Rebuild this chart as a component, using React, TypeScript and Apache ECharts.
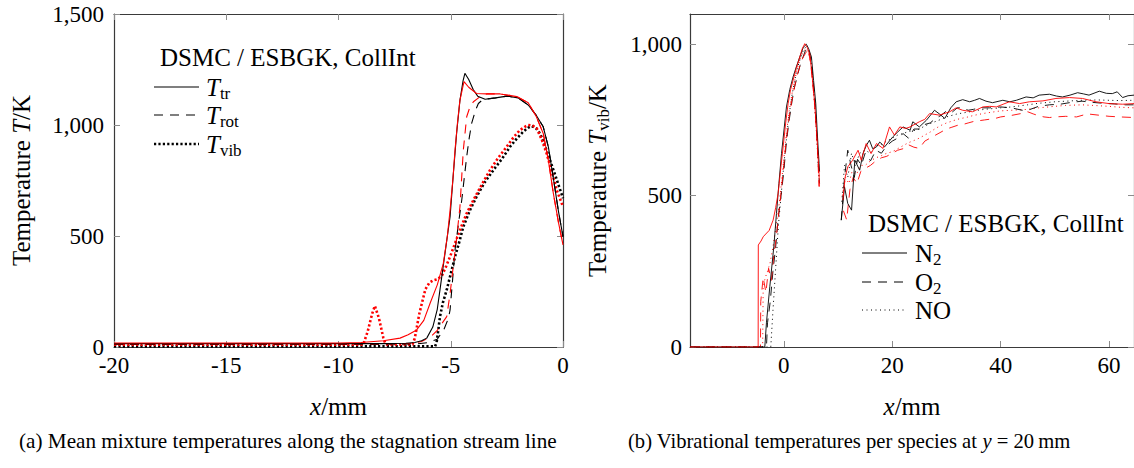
import React, { useEffect, useRef } from "react";
import * as echarts from "echarts";

const FONT = "Liberation Serif";
const BLACK = "#000000";
const RED = "#ff0000";

// ---------- (a) Mean mixture temperatures, x in mm, T in K ----------
const aXTicks = [-20, -15, -10, -5, 0];
const aYTicks = [0, 500, 1000, 1500];

const trDsmc = [[-20,15],[-10,15],[-8,15],[-7,17],[-6.6,20],[-6.3,28],[-6.07,40],[-5.8,90],[-5.6,170],[-5.48,257],[-5.3,390],[-5.15,500],[-5.03,587],[-4.9,760],[-4.74,962],[-4.59,1112],[-4.45,1200],[-4.37,1233],[-4.2,1205],[-4.0,1160],[-3.8,1130],[-3.47,1116],[-3.0,1122],[-2.5,1130],[-2.0,1122],[-1.55,1090],[-1.2,1045],[-0.88,992],[-0.65,900],[-0.44,767],[-0.2,610],[0,497]];
const trBgk = [[-20,18],[-10,18],[-9,20],[-8,28],[-7.26,40],[-6.9,55],[-6.52,77],[-6.2,120],[-5.92,197],[-5.6,280],[-5.33,377],[-5.15,500],[-5.03,617],[-4.9,760],[-4.81,887],[-4.7,1010],[-4.59,1112],[-4.41,1195],[-4.2,1170],[-3.85,1142],[-3.4,1140],[-2.8,1140],[-2.06,1128],[-1.55,1100],[-1.2,1040],[-0.88,962],[-0.65,840],[-0.43,692],[-0.2,560],[0,460]];
const rotDsmc = [[-20,12],[-8,12],[-6.5,14],[-6.0,20],[-5.6,35],[-5.3,80],[-5.1,130],[-5.03,167],[-4.92,300],[-4.81,437],[-4.65,560],[-4.51,662],[-4.4,760],[-4.29,857],[-4.18,940],[-4.07,1007],[-3.9,1065],[-3.77,1097],[-3.6,1112],[-3.47,1116],[-3.0,1122],[-2.5,1130],[-2.0,1122],[-1.55,1090],[-1.2,1045],[-0.88,992],[-0.65,900],[-0.44,767],[-0.2,610],[0,497]];
const rotBgk = [[-20,14],[-8,14],[-6.8,16],[-6.3,25],[-5.9,45],[-5.6,75],[-5.4,105],[-5.18,137],[-5.03,240],[-4.89,362],[-4.75,480],[-4.59,632],[-4.44,887],[-4.29,1037],[-4.15,1080],[-3.99,1105],[-3.70,1127],[-3.4,1140],[-2.8,1140],[-2.06,1128],[-1.55,1100],[-1.2,1040],[-0.88,962],[-0.65,840],[-0.43,692],[-0.2,560],[0,460]];
const vibDsmc = [[-20,3],[-5.7,3],[-5.63,20],[-5.55,80],[-5.48,137],[-5.35,200],[-5.18,257],[-5.0,330],[-4.81,407],[-4.6,480],[-4.44,542],[-4.15,615],[-3.85,677],[-3.5,740],[-3.10,797],[-2.7,850],[-2.36,902],[-2.05,940],[-1.77,970],[-1.55,988],[-1.39,995],[-1.2,985],[-1.02,962],[-0.8,905],[-0.58,842],[-0.3,760],[0,670]];
const vibBgk = [[-20,10],[-8.9,10],[-8.7,70],[-8.5,150],[-8.38,185],[-8.2,130],[-8.0,40],[-7.9,12],[-6.7,12],[-6.6,40],[-6.4,150],[-6.13,260],[-5.95,290],[-5.78,300],[-5.6,305],[-5.40,320],[-5.2,365],[-5.03,407],[-4.8,470],[-4.59,527],[-4.3,600],[-3.99,662],[-3.6,735],[-3.25,797],[-2.9,850],[-2.51,902],[-2.2,945],[-1.92,977],[-1.7,992],[-1.55,1000],[-1.35,997],[-1.17,985],[-0.95,935],[-0.73,872],[-0.5,790],[-0.28,707],[0,632]];

// ---------- (b) Vibrational temperatures per species at y = 20 mm ----------
const bXTicks = [0, 20, 40, 60];
const bYTicks = [0, 500, 1000];

const n2Dsmc = [[-17.3,0],[-3.5,0],[-3.2,80],[-2.58,199],[-1.84,331],[-1.35,441],[-0.9,540],[-0.42,639],[0.49,793],[1.1,850],[1.71,892],[2.3,925],[2.95,958],[3.6,990],[4.17,1000],[4.6,985],[5.1,958],[5.5,880],[5.9,804],[6.2,700],[6.51,606],[6.6,580],[8.5,null],[10.6,419],[11.2,529],[11.8,474],[12.5,452],[13.1,617],[14.0,584],[14.6,639],[15.2,665],[15.8,683],[16.4,655],[17.1,661],[17.7,677],[18.6,661],[20.1,694],[21,710],[22,727],[23.3,716],[23.8,744],[25.0,727],[26.3,749],[27.8,782],[28.7,770],[29.7,755],[30.8,790],[31.8,810],[33.0,817],[34.3,810],[35.2,815],[36.1,821],[37.3,812],[38.5,807],[40.4,815],[41.7,810],[42.9,815],[44.7,826],[46,823],[47.1,832],[49,835],[50.3,829],[51.4,826],[52.8,832],[54.2,840],[55.3,836],[56.3,832],[58.2,845],[59.5,838],[60.6,837],[61.5,843],[62.5,824],[63.5,830],[64.6,832]];
const n2Bgk = [[-17.3,0],[-4.73,0],[-4.7,337],[-4.2,350],[-3.8,364],[-3.5,370],[-2.7,385],[-1.97,419],[-1.5,460],[-1.05,507],[-0.5,600],[-0.12,661],[0.35,740],[0.8,804],[1.25,850],[1.71,881],[2.3,920],[2.95,958],[3.4,985],[3.87,1002],[4.3,990],[4.79,969],[5.2,900],[5.71,804],[6.1,700],[6.51,573],[6.55,530],[8.5,null],[10.9,485],[11.3,560],[11.8,595],[12.7,617],[13.7,650],[14.3,617],[15.2,672],[16.1,639],[17.1,672],[18.3,656],[19.5,727],[20.4,700],[21.4,727],[22.5,722],[23.3,727],[25.0,744],[26.0,752],[26.9,771],[28.7,766],[30.6,777],[31.8,790],[33.0,782],[34.8,777],[36.7,793],[38,795],[39.2,793],[41.6,810],[43.5,804],[45.3,810],[47.8,813],[50.2,821],[52.7,824],[55.1,821],[57.6,810],[60.0,804],[62.5,802],[64.6,804]];
const o2Dsmc = [[-17.3,0],[-3.2,0],[-3.0,80],[-2.5,150],[-2.0,250],[-1.5,330],[-1.0,430],[-0.5,500],[0,580],[0.5,680],[1.0,750],[1.5,810],[2.0,860],[2.5,895],[3.0,930],[3.5,955],[4.0,980],[4.5,990],[5.0,950],[5.4,880],[5.7,820],[6.1,700],[6.5,560],[6.6,540],[8.5,null],[10.6,419],[11.2,560],[11.8,650],[12.4,600],[13.0,560],[13.6,620],[14.3,600],[15.0,640],[16,615],[17,650],[18,640],[19,665],[20,680],[21,690],[22,705],[23,690],[24,720],[25,720],[26,735],[27,740],[28,755],[29,765],[30,780],[31,775],[32,790],[33,790],[34,782],[35,785],[36,790],[38,790],[40,793],[42,790],[44,782],[45,782],[47,795],[49,800],[51,802],[53,808],[55,812],[57,808],[59,805],[61,803],[63,800],[64.6,800]];
const o2Bgk = [[-17.3,0],[-4.3,0],[-4.25,150],[-3.8,230],[-3.3,180],[-2.8,260],[-2.3,220],[-1.8,310],[-1.4,360],[-1.0,430],[-0.5,510],[0,600],[0.5,690],[1.0,760],[1.5,815],[2.0,860],[2.5,900],[3.0,930],[3.5,955],[4.0,970],[4.5,985],[5.0,930],[5.4,860],[5.8,780],[6.2,660],[6.5,530],[8.5,null],[11.0,450],[11.6,420],[12.2,520],[12.8,560],[13.5,540],[14.2,580],[15,590],[16,600],[17,615],[18,625],[19,630],[20,640],[21,650],[22,655],[23,668],[24,660],[25,656],[26,680],[27,690],[28,700],[29,710],[30,720],[31,726],[32,732],[33,735],[34,740],[35,745],[37,750],[39,755],[40,760],[42,765],[44,772],[45,777],[46,770],[47,764],[48,760],[49,758],[50,760],[52,762],[54,760],[56,770],[58,766],[60,762],[62,760],[64.6,758]];
const noDsmc = [[-17.3,0],[-2.4,0],[-2.2,60],[-2.0,120],[-1.5,260],[-1.0,400],[-0.5,500],[0,600],[0.5,690],[1.0,770],[1.5,830],[2.0,880],[2.5,920],[3.0,950],[3.5,975],[4.0,990],[4.5,980],[5.0,950],[5.5,850],[6.0,720],[6.5,560],[8.5,null],[10.7,480],[11.2,600],[11.8,560],[12.5,640],[13.2,600],[14,640],[15,650],[16,640],[17,665],[18,670],[19,680],[20,690],[21,700],[22,705],[23,712],[24,715],[25,720],[26,730],[27,738],[28,745],[29,752],[30,760],[32,770],[34,776],[35,780],[37,785],[40,790],[42,793],[45,800],[47,805],[50,810],[52,812],[55,815],[58,816],[60,815],[62,814],[64.6,815]];
const noBgk = [[-17.3,0],[-3.9,0],[-3.8,200],[-3.4,230],[-3.0,250],[-2.5,280],[-2.0,330],[-1.5,390],[-1.0,450],[-0.5,530],[0,620],[0.5,710],[1.0,780],[1.5,835],[2.0,880],[2.5,920],[3.0,950],[3.5,972],[4.0,985],[4.5,975],[5.0,940],[5.5,840],[6.0,720],[6.5,560],[8.5,null],[10.8,500],[11.4,560],[12,540],[12.6,580],[13.4,570],[14.2,600],[15,600],[16,615],[17,625],[18,632],[19,640],[20,645],[21,655],[22,665],[23,675],[24,682],[25,690],[26,700],[27,710],[28,722],[29,732],[30,740],[32,752],[34,760],[35,765],[37,772],[40,780],[42,782],[45,785],[47,790],[50,795],[52,798],[55,800],[57,798],[60,795],[62,792],[64.6,790]];

const AXIS_LINE = "#3a3a3a";
const TICK = "#8c8c8c";
const TICK_FS = 23;
const TITLE_FS = 25;

const fmt = (v: number) => v.toLocaleString("en-US");

const richBase = {
  n: { fontFamily: FONT, fontSize: TITLE_FS, color: BLACK, lineHeight: 30 },
  i: { fontFamily: FONT, fontSize: TITLE_FS, color: BLACK, fontStyle: "italic", lineHeight: 30 },
  s: { fontFamily: FONT, fontSize: 17, color: BLACK, lineHeight: 12, verticalAlign: "bottom" },
  r: { fontFamily: FONT, fontSize: TITLE_FS, color: RED, lineHeight: 30 },
};

function frameAxis(gridIndex: number, position: string, min: number, max: number, ticks: number[]) {
  return {
    type: "value",
    gridIndex,
    position,
    min,
    max,
    axisLine: { show: true, onZero: false, lineStyle: { color: AXIS_LINE, width: 1.2 } },
    axisTick: { show: true, inside: true, length: 6, customValues: ticks, lineStyle: { color: TICK, width: 1 } },
    axisLabel: { show: false, customValues: ticks },
    splitLine: { show: false },
  };
}

function labelAxis(gridIndex: number, position: string, min: number, max: number, ticks: number[], margin: number, name: string, nameGap: number, isY: boolean) {
  return {
    type: "value",
    gridIndex,
    position,
    min,
    max,
    name,
    nameLocation: "middle",
    nameGap,
    nameRotate: isY ? 90 : 0,
    nameTextStyle: { fontFamily: FONT, fontSize: TITLE_FS, color: BLACK, rich: richBase },
    axisLine: { show: true, onZero: false, lineStyle: { color: AXIS_LINE, width: 1.2 } },
    axisTick: { show: true, inside: true, length: 6, customValues: ticks, lineStyle: { color: TICK, width: 1 } },
    axisLabel: {
      show: true,
      customValues: ticks,
      margin,
      fontFamily: FONT,
      fontSize: TICK_FS,
      color: BLACK,
      formatter: (v: number) => fmt(v),
      showMinLabel: true,
      showMaxLabel: true,
    },
    splitLine: { show: false },
  };
}

function line(data: any[], xi: number, color: string, width: number, type: any) {
  return {
    type: "line",
    xAxisIndex: xi,
    yAxisIndex: xi,
    data,
    showSymbol: false,
    symbol: "none",
    connectNulls: false,
    clip: true,
    silent: true,
    lineStyle: { color, width, type, cap: "butt" },
    z: 3,
  };
}

const DASH = [9, 7];
const THICK_DOT = [2.2, 2.2];
const THIN_DOT = [1, 3.5];

function legendText(x: number, y: number, text: string) {
  return {
    type: "text",
    x,
    y,
    silent: true,
    style: { text, rich: richBase, fontFamily: FONT, fontSize: TITLE_FS, fill: BLACK, align: "left", verticalAlign: "middle" },
  };
}

function legendLine(x1: number, x2: number, y: number, width: number, dash: any) {
  return {
    type: "line",
    silent: true,
    shape: { x1, y1: y, x2, y2: y },
    style: { stroke: BLACK, lineWidth: width, lineDash: dash, lineCap: "butt" },
  };
}

export default function App() {
  const ref = useRef<HTMLDivElement>(null);
  useEffect(() => {
    const chart = echarts.init(ref.current!, null, { renderer: "svg" });
    const option: any = {
      animation: false,
      backgroundColor: "#ffffff",
      textStyle: { fontFamily: FONT },
      grid: [
        { left: 114, top: 14, width: 449, height: 333, containLabel: false },
        { left: 690, top: 14, width: 445, height: 333, containLabel: false },
      ],
      xAxis: [
        labelAxis(0, "bottom", -20, 0, aXTicks, 7, "{i|x}{n|/mm}", 44, false),
        labelAxis(1, "bottom", -17.3, 64.6, bXTicks, 7, "{i|x}{n|/mm}", 44, false),
        frameAxis(0, "top", -20, 0, aXTicks),
        frameAxis(1, "top", -17.3, 64.6, bXTicks),
      ],
      yAxis: [
        labelAxis(0, "left", 0, 1500, aYTicks, 10, "{n|Temperature }{i|T}{n|/K}", 78, true),
        labelAxis(1, "left", 0, 1100, bYTicks, 8, "{n|Temperature }{i|T}{s|vib}{n|/K}", 78, true),
        frameAxis(0, "right", 0, 1500, aYTicks),
        frameAxis(1, "right", 0, 1100, bYTicks),
      ],
      series: [
        line(vibDsmc, 0, BLACK, 2.6, THICK_DOT),
        line(vibBgk, 0, RED, 2.6, THICK_DOT),
        line(rotDsmc, 0, BLACK, 1.1, DASH),
        line(rotBgk, 0, RED, 1.1, DASH),
        line(trDsmc, 0, BLACK, 1.1, "solid"),
        line(trBgk, 0, RED, 1.1, "solid"),
        line(noDsmc, 1, BLACK, 1, THIN_DOT),
        line(noBgk, 1, RED, 1, THIN_DOT),
        line(o2Dsmc, 1, BLACK, 0.9, DASH),
        line(o2Bgk, 1, RED, 0.9, DASH),
        line(n2Dsmc, 1, BLACK, 0.9, "solid"),
        line(n2Bgk, 1, RED, 0.9, "solid"),
      ],
      graphic: [
        // legend (a)
        legendText(160, 57, "{n|DSMC / }{r|ESBGK, CollInt}"),
        legendLine(154, 199, 87, 1.1, null),
        legendLine(154, 199, 115, 1.1, DASH),
        legendLine(154, 199, 144, 2.6, THICK_DOT),
        legendText(206, 87, "{i|T}{s|tr}"),
        legendText(206, 115, "{i|T}{s|rot}"),
        legendText(206, 144, "{i|T}{s|vib}"),
        // legend (b)
        legendText(868, 223, "{n|DSMC / }{r|ESBGK, CollInt}"),
        legendLine(862, 907, 253, 1, null),
        legendLine(862, 907, 282, 1, DASH),
        legendLine(862, 907, 310, 1, THIN_DOT),
        legendText(915, 253, "{n|N}{s|2}"),
        legendText(915, 282, "{n|O}{s|2}"),
        legendText(915, 310, "{n|NO}"),
        // captions
        {
          type: "text",
          x: 19,
          y: 441,
          silent: true,
          style: { text: "(a) Mean mixture temperatures along the stagnation stream line", fontFamily: FONT, fontSize: 21.2, fill: BLACK, align: "left", verticalAlign: "middle" },
        },
        {
          type: "text",
          x: 628,
          y: 441,
          silent: true,
          style: {
            text: "{c|(b) Vibrational temperatures per species at }{ci|y}{c| = 20\u2009mm}",
            rich: {
              c: { fontFamily: FONT, fontSize: 20.6, color: BLACK },
              ci: { fontFamily: FONT, fontSize: 20.6, color: BLACK, fontStyle: "italic" },
            },
            fontFamily: FONT,
            align: "left",
            verticalAlign: "middle",
          },
        },
      ],
    };
    chart.setOption(option);
    return () => chart.dispose();
  }, []);
  return <div ref={ref} style={{ position: "absolute", left: 0, top: 0, width: 1134, height: 468, background: "#fff" }} />;
}
